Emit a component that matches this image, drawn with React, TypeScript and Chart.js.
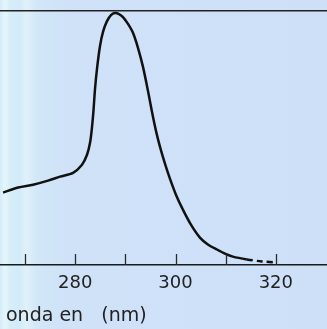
import React, { useEffect, useRef } from "react";
import { Chart, registerables } from "chart.js";

Chart.register(...registerables);

// Wavelength (nm) and relative absorbance
const wavelengths = [
  265.62, 268.61, 271.59, 274.58, 276.97, 279.56, 281.35, 282.35, 282.95,
  283.35, 283.65, 283.94, 284.34, 284.94, 285.54, 286.33, 287.13, 287.93,
  288.73, 289.52, 290.52, 291.51, 292.51, 293.51, 294.5, 295.3, 296.1, 296.89,
  297.89, 298.88, 300.08, 301.47, 303.07, 304.86, 306.45, 308.25, 309.84,
  311.43, 314.22, 317.21, 320.2,
];
const absorbance = [
  0.285, 0.305, 0.316, 0.332, 0.348, 0.363, 0.395, 0.434, 0.481, 0.544, 0.611,
  0.692, 0.772, 0.862, 0.918, 0.96, 0.984, 0.992, 0.988, 0.976, 0.949, 0.914,
  0.855, 0.78, 0.686, 0.603, 0.528, 0.466, 0.399, 0.34, 0.277, 0.218, 0.159,
  0.108, 0.081, 0.061, 0.045, 0.033, 0.022, 0.014, 0.01,
];
const tickValues = [270, 280, 290, 300, 310, 320];
const labeledTicks = [280, 300, 320];
const axisTitle = "onda en   (nm)";
const dashedFrom = 314;

const bgPlugin = {
  id: "scanBg",
  beforeDraw(chart: any) {
    const { ctx, width, height } = chart;
    const g = ctx.createLinearGradient(0, 0, width, 0);
    g.addColorStop(0, "#d4ecf9");
    g.addColorStop(0.015, "#e6f6fb");
    g.addColorStop(0.03, "#d6eef9");
    g.addColorStop(0.06, "#d3ebf8");
    g.addColorStop(0.08, "#e0f1fa");
    g.addColorStop(0.11, "#d2e7f8");
    g.addColorStop(0.2, "#cfe2f8");
    g.addColorStop(1, "#cde0f8");
    ctx.save();
    ctx.fillStyle = g;
    ctx.fillRect(0, 0, width, height);
    ctx.restore();
  },
};

const decoPlugin = {
  id: "deco",
  afterDraw(chart: any) {
    const { ctx, chartArea } = chart;
    const xs = chart.scales.x;
    ctx.save();
    ctx.strokeStyle = "#2a2a2a";
    ctx.lineWidth = 1.3;
    tickValues.forEach((v) => {
      const px = Math.round(xs.getPixelForValue(v)) + 0.5;
      ctx.beginPath();
      ctx.moveTo(px, chartArea.bottom);
      ctx.lineTo(px, chartArea.bottom - 11);
      ctx.stroke();
    });
    ctx.fillStyle = "#222";
    ctx.font = "19px 'DejaVu Sans'";
    ctx.textBaseline = "alphabetic";
    ctx.textAlign = "left";
    ctx.fillText(axisTitle, chartArea.left + 6, 321);
    ctx.restore();
  },
};

export default function App() {
  const ref = useRef<HTMLCanvasElement>(null);
  useEffect(() => {
    document.body.style.margin = "0";
    const canvas = ref.current!;
    const chart = new Chart(canvas, {
      type: "line",
      data: {
        datasets: [
          {
            data: wavelengths.map((w, i) => ({ x: w, y: absorbance[i] })),
            borderColor: "#111",
            borderWidth: 2.5,
            pointRadius: 0,
            fill: false,
            tension: 0.3,
            segment: {
              borderDash: (c: any) =>
                c.p0.parsed.x >= dashedFrom ? [6, 4] : undefined,
            },
          },
        ],
      },
      options: {
        animation: false,
        responsive: false,
        devicePixelRatio: 1,
        layout: { padding: 0 },
        plugins: { legend: { display: false }, tooltip: { enabled: false } },
        scales: {
          x: {
            type: "linear",
            position: "bottom",
            min: 265,
            max: 330.2,
            grid: { display: true, drawOnChartArea: false, drawTicks: false },
            border: { display: true, color: "#1a1a1a", width: 1.5 },
            ticks: {
              autoSkip: false,
              maxRotation: 0,
              padding: 8,
              color: "#222",
              font: { family: "'DejaVu Sans'", size: 18 },
              callback: (v: any) =>
                labeledTicks.includes(Number(v)) ? String(v) : "",
            },
            afterBuildTicks: (s: any) => {
              s.ticks = tickValues.map((v) => ({ value: v }));
            },
            afterFit: (s: any) => {
              s.height = 64;
            },
          },
          x2: {
            type: "linear",
            position: "top",
            min: 265,
            max: 330.2,
            grid: { display: true, drawOnChartArea: false, drawTicks: false },
            border: { display: true, color: "#222", width: 1.4 },
            ticks: { display: false },
            afterFit: (s: any) => {
              s.height = 11;
            },
          },
          y: { display: false, min: 0, max: 1 },
        },
      },
      plugins: [bgPlugin, decoPlugin],
    });
    return () => chart.destroy();
  }, []);
  return <canvas ref={ref} width={327} height={329} />;
}
